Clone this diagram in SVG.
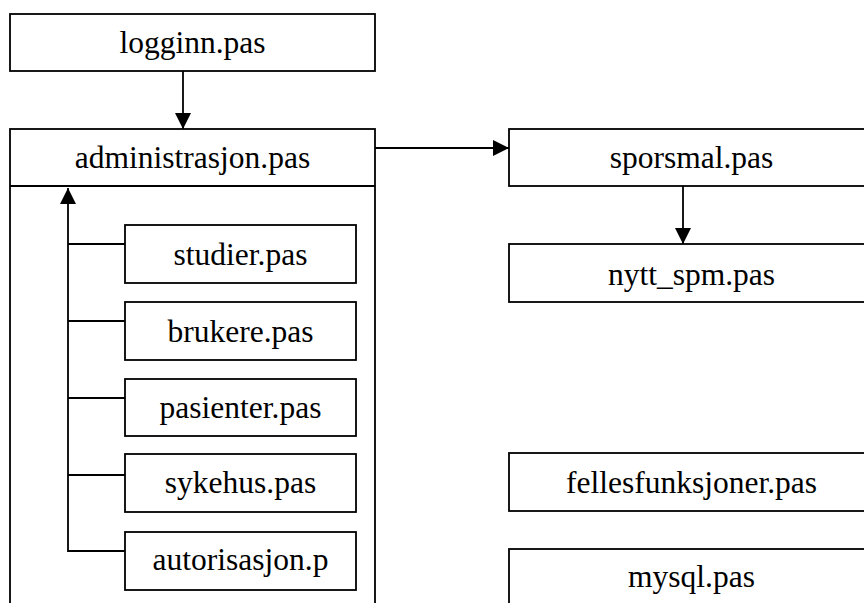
<svg xmlns="http://www.w3.org/2000/svg" width="864" height="603" viewBox="0 0 864 603">
  <style>
    .box { fill: #fff; stroke: #000; stroke-width: 1.8; }
    .lbl { font-family: 'Liberation Serif', 'DejaVu Serif', serif; font-size: 31.5px; fill: #000; text-anchor: middle; }
    .wire { fill: none; stroke: #000; stroke-width: 1.8; }
  </style>
  <defs>
    <marker id="arrow" markerUnits="userSpaceOnUse" markerWidth="16" markerHeight="16" viewBox="0 0 16 16" refX="16" refY="8" orient="auto">
      <path d="M0,0 L16,8 L0,16 Z" fill="#000"/>
    </marker>
  </defs>

  <rect width="864" height="603" fill="#fff"/>

  <g id="logginn">
    <rect class="box" x="10" y="14" width="365" height="57"/>
    <text class="lbl" font-family="Liberation Serif" x="192.5" y="53">logginn.pas</text>
  </g>

  <g id="administrasjon">
    <rect class="box" x="10" y="129" width="365" height="500"/>
    <line class="wire" x1="10" y1="186" x2="375" y2="186"/>
    <text class="lbl" font-family="Liberation Serif" x="192.5" y="168">administrasjon.pas</text>
  </g>

  <g id="studier">
    <rect class="box" x="125" y="225" width="231" height="58"/>
    <text class="lbl" font-family="Liberation Serif" x="240.5" y="265">studier.pas</text>
  </g>
  <g id="brukere">
    <rect class="box" x="125" y="302" width="231" height="58"/>
    <text class="lbl" font-family="Liberation Serif" x="240.5" y="342">brukere.pas</text>
  </g>
  <g id="pasienter">
    <rect class="box" x="125" y="379" width="231" height="57"/>
    <text class="lbl" font-family="Liberation Serif" x="240.5" y="418">pasienter.pas</text>
  </g>
  <g id="sykehus">
    <rect class="box" x="125" y="454" width="231" height="58"/>
    <text class="lbl" font-family="Liberation Serif" x="240.5" y="493">sykehus.pas</text>
  </g>
  <g id="autorisasjon">
    <rect class="box" x="125" y="532" width="231" height="58"/>
    <text class="lbl" font-family="Liberation Serif" x="240.5" y="570">autorisasjon.p</text>
  </g>

  <g id="sporsmal">
    <rect class="box" x="509" y="129" width="365" height="57"/>
    <text class="lbl" font-family="Liberation Serif" x="691.5" y="168">sporsmal.pas</text>
  </g>
  <g id="nytt_spm">
    <rect class="box" x="509" y="244" width="365" height="58"/>
    <text class="lbl" font-family="Liberation Serif" x="691.5" y="285">nytt_spm.pas</text>
  </g>
  <g id="fellesfunksjoner">
    <rect class="box" x="509" y="453" width="365" height="58"/>
    <text class="lbl" font-family="Liberation Serif" x="691.5" y="493">fellesfunksjoner.pas</text>
  </g>
  <g id="mysql">
    <rect class="box" x="509" y="549" width="365" height="80"/>
    <text class="lbl" font-family="Liberation Serif" x="691.5" y="587">mysql.pas</text>
  </g>

  <g id="connectors">
    <line class="wire" x1="183" y1="71" x2="183" y2="129" marker-end="url(#arrow)"/>
    <line class="wire" x1="375" y1="148" x2="509" y2="148" marker-end="url(#arrow)"/>
    <line class="wire" x1="683" y1="186" x2="683" y2="244" marker-end="url(#arrow)"/>
    <path class="wire" d="M125,551 H68 V188" marker-end="url(#arrow)"/>
    <line class="wire" x1="68" y1="244" x2="125" y2="244"/>
    <line class="wire" x1="68" y1="321" x2="125" y2="321"/>
    <line class="wire" x1="68" y1="398" x2="125" y2="398"/>
    <line class="wire" x1="68" y1="475" x2="125" y2="475"/>
  </g>
</svg>
